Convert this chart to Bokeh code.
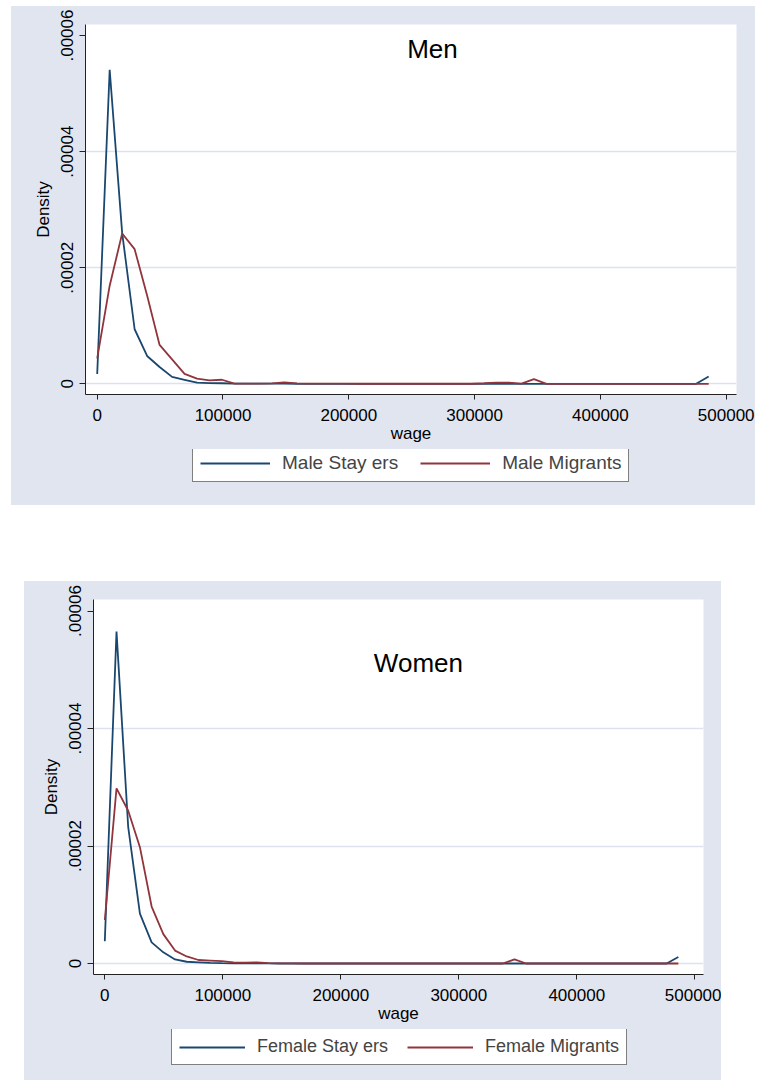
from bokeh.plotting import figure
from bokeh.models import (Range1d, FixedTicker, CustomJSTickFormatter, NumeralTickFormatter,
                          Legend, LegendItem, Label, Spacer)
from bokeh.layouts import column, row
from bokeh.embed import file_html
from bokeh.resources import INLINE

# ---------------- data ----------------
wage = [0, 9920, 19840, 29760, 39680, 49600, 59520, 69440, 79360, 89280,
        99200, 109120, 119040, 128960, 138880, 148800, 158720, 168640, 178560, 188480,
        198400, 208320, 218240, 228160, 238080, 248000, 257920, 267840, 277760, 287680,
        297600, 307520, 317440, 327360, 337280, 347200, 357120, 367040, 376960, 386880,
        396800, 406720, 416640, 426560, 436480, 446400, 456320, 466240, 476160, 486080]

male_stayers = [1.7e-6, 5.41e-5, 2.60e-5, 9.4e-6, 4.8e-6, 2.9e-6, 1.2e-6, 7e-7, 2e-7, 1.2e-7,
                1e-7, 5e-8, 4e-8, 3e-8, 2e-8, 4e-8, 1e-8, 0, 0, 0,
                0, 0, 0, 0, 0, 0, 0, 0, 0, 0,
                0, 0, 0, 0, 0, 0, 0, 0, 0, 0,
                0, 0, 0, 0, 0, 0, 0, 0, 0, 1.25e-6]

male_migrants = [4.4e-6, 1.69e-5, 2.59e-5, 2.32e-5, 1.52e-5, 6.7e-6, 4.2e-6, 1.7e-6, 9e-7, 6e-7,
                 7e-7, 5e-8, 5e-8, 5e-8, 8e-8, 2.5e-7, 8e-8, 5e-8, 3e-8, 2e-8,
                 2e-8, 1e-8, 1e-8, 1e-8, 1e-8, 1e-8, 1e-8, 1e-8, 1e-8, 1e-8,
                 1e-8, 1e-7, 2e-7, 2e-7, 3e-8, 8e-7, 0, 0, 0, 0,
                 0, 0, 0, 0, 0, 0, 0, 0, 0, 0]

female_stayers = [3.8e-6, 5.65e-5, 2.32e-5, 8.5e-6, 3.6e-6, 1.9e-6, 7e-7, 3e-7, 2e-7, 1e-7,
                  5e-8, 3e-8, 2e-8, 2e-8, 1e-8, 0, 0, 0, 0, 0,
                  0, 0, 0, 0, 0, 0, 0, 0, 0, 0,
                  0, 0, 0, 0, 0, 0, 0, 0, 0, 0,
                  0, 0, 0, 0, 0, 0, 0, 0, 0, 1.1e-6]

female_migrants = [7.4e-6, 2.98e-5, 2.60e-5, 1.98e-5, 9.7e-6, 5.0e-6, 2.2e-6, 1.2e-6, 6e-7, 5e-7,
                   4e-7, 2e-7, 1.5e-7, 2e-7, 5e-8, 3e-8, 2e-8, 0, 0, 0,
                   0, 0, 0, 0, 0, 0, 0, 0, 0, 0,
                   0, 0, 0, 0, 0, 7e-7, 0, 0, 0, 0,
                   0, 0, 0, 0, 0, 0, 0, 0, 0, 0]

x_ticks = [0, 100000, 200000, 300000, 400000, 500000]
y_ticks = [0, 0.00002, 0.00004, 0.00006]
grid_ticks = [0, 0.00002, 0.00004]

men_labels = ["Male Stay ers", "Male Migrants"]
women_labels = ["Female Stay ers", "Female Migrants"]

# ---------------- styling ----------------
FONT = "Liberation Sans"
BG = "#E0E5EF"
GRID = "#DCE2EE"
NAVY = "#1A476F"
MAROON = "#90353B"


def panel(width, height, borders, xr, yr, stayers, migrants, title, title_xy):
    bl, br, bt, bb = borders
    p = figure(width=width, height=height, output_backend="svg", toolbar_location=None,
               x_range=Range1d(*xr), y_range=Range1d(*yr),
               min_border_left=bl, min_border_right=br, min_border_top=bt, min_border_bottom=bb)
    p.border_fill_color = BG
    p.background_fill_color = "white"
    p.outline_line_color = None

    p.line(wage, stayers, line_color=NAVY, line_width=1.8)
    p.line(wage, migrants, line_color=MAROON, line_width=1.8)

    p.xgrid.visible = False
    p.ygrid.ticker = FixedTicker(ticks=grid_ticks)
    p.ygrid.grid_line_color = GRID
    p.ygrid.grid_line_width = 1.5

    for ax in (p.xaxis, p.yaxis):
        ax.axis_line_color = "#222222"
        ax.major_tick_line_color = "#222222"
        ax.major_tick_in = 0
        ax.minor_tick_line_color = None
        ax.major_label_text_font = FONT
        ax.major_label_text_font_size = "17px"
        ax.major_label_text_color = "black"
        ax.axis_label_text_font = FONT
        ax.axis_label_text_font_size = "17px"
        ax.axis_label_text_font_style = "normal"
        ax.axis_label_text_color = "black"

    p.xaxis.ticker = FixedTicker(ticks=x_ticks)
    p.xaxis.formatter = NumeralTickFormatter(format="0")
    p.xaxis.major_tick_out = 5
    p.xaxis.major_label_standoff = 9
    p.xaxis.axis_label = "wage"
    p.xaxis.axis_label_standoff = 0

    p.yaxis.ticker = FixedTicker(ticks=y_ticks)
    p.yaxis.formatter = CustomJSTickFormatter(
        code="return tick === 0 ? '0' : tick.toFixed(5).replace(/^0/, '');")
    p.yaxis.major_tick_out = 6
    p.yaxis.major_label_orientation = "vertical"
    p.yaxis.major_label_standoff = 6
    p.yaxis.axis_label = "Density"
    p.yaxis.axis_label_standoff = 6

    p.add_layout(Label(x=title_xy[0], y=title_xy[1], text=title, text_font=FONT,
                       text_font_size="26px", text_align="center", text_baseline="middle",
                       text_color="black"))
    return p


def legend_strip(width, height, stayers, migrants, labels, loc, font_size, glyph_w, spacing):
    f = figure(width=width, height=height, output_backend="svg", toolbar_location=None,
               x_axis_type=None, y_axis_type=None,
               min_border_left=0, min_border_right=0, min_border_top=0, min_border_bottom=0)
    f.border_fill_color = BG
    f.background_fill_color = BG
    f.outline_line_color = None
    r1 = f.line(wage, stayers, line_color=NAVY, line_width=1.8, visible=False)
    r2 = f.line(wage, migrants, line_color=MAROON, line_width=1.8, visible=False)
    legend = Legend(items=[LegendItem(label=labels[0], renderers=[r1]),
                           LegendItem(label=labels[1], renderers=[r2])],
                    orientation="horizontal", location=loc, click_policy="none",
                    border_line_color="black", border_line_width=1,
                    background_fill_color="white", background_fill_alpha=1.0,
                    label_text_font=FONT, label_text_font_size=font_size,
                    glyph_width=glyph_w, glyph_height=16, label_height=16,
                    label_standoff=12, spacing=spacing, padding=7, margin=0)
    f.add_layout(legend, "center")
    return f


p1 = panel(744, 443, (74, 19, 18, 55), (-9300, 508200), (-1.84e-6, 6.19e-5),
           male_stayers, male_migrants, "Men", (266500, 5.76e-5))
l1 = legend_strip(744, 56, male_stayers, male_migrants, men_labels, (107, 23), "19px", 70, 22)

p2 = panel(697, 448, (69, 18, 18, 55), (-9580, 507400), (-1.87e-6, 6.196e-5),
           female_stayers, female_migrants, "Women", (265800, 5.11e-5))
l2 = legend_strip(697, 51, female_stayers, female_migrants, women_labels, (78, 15), "18px", 66, 19)

top = column(p1, l1, styles={"background-color": BG})
bottom = column(p2, l2, styles={"background-color": BG})

layout = column(Spacer(width=10, height=6),
                row(Spacer(width=11, height=499), top),
                Spacer(width=10, height=76),
                row(Spacer(width=24, height=499), bottom))

open("out.html", "w").write(file_html(layout, INLINE))
